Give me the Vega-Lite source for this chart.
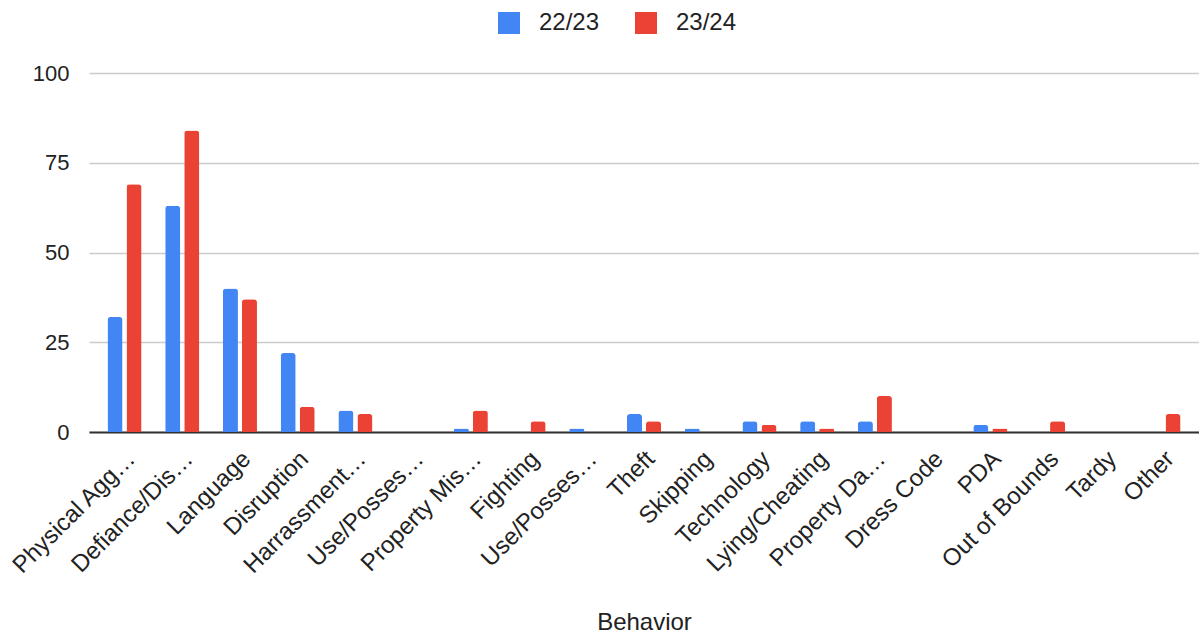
{
  "$schema": "https://vega.github.io/schema/vega-lite/v6.json",
  "autosize": {"type": "none"},
  "width": 1110,
  "height": 359,
  "padding": {"left": 89, "top": 73, "right": 0, "bottom": 205},
  "background": "white",
  "config": {
    "view": {"stroke": null},
    "font": "Liberation Sans",
    "axis": {"labelFont": "Liberation Sans", "titleFont": "Liberation Sans", "labelColor": "#222222", "titleColor": "#222222", "titleFontWeight": "normal"}
  },
  "data": {
    "values": [
      {"behavior": "Physical Aggression", "year": "22/23", "count": 32},
      {"behavior": "Physical Aggression", "year": "23/24", "count": 69},
      {"behavior": "Defiance/Disrespect", "year": "22/23", "count": 63},
      {"behavior": "Defiance/Disrespect", "year": "23/24", "count": 84},
      {"behavior": "Language", "year": "22/23", "count": 40},
      {"behavior": "Language", "year": "23/24", "count": 37},
      {"behavior": "Disruption", "year": "22/23", "count": 22},
      {"behavior": "Disruption", "year": "23/24", "count": 7},
      {"behavior": "Harrassment/Bullying", "year": "22/23", "count": 6},
      {"behavior": "Harrassment/Bullying", "year": "23/24", "count": 5},
      {"behavior": "Property Misuse", "year": "22/23", "count": 1},
      {"behavior": "Property Misuse", "year": "23/24", "count": 6},
      {"behavior": "Fighting", "year": "23/24", "count": 3},
      {"behavior": "Use/Possession of Weapons", "year": "22/23", "count": 1},
      {"behavior": "Theft", "year": "22/23", "count": 5},
      {"behavior": "Theft", "year": "23/24", "count": 3},
      {"behavior": "Skipping", "year": "22/23", "count": 1},
      {"behavior": "Technology", "year": "22/23", "count": 3},
      {"behavior": "Technology", "year": "23/24", "count": 2},
      {"behavior": "Lying/Cheating", "year": "22/23", "count": 3},
      {"behavior": "Lying/Cheating", "year": "23/24", "count": 1},
      {"behavior": "Property Damage", "year": "22/23", "count": 3},
      {"behavior": "Property Damage", "year": "23/24", "count": 10},
      {"behavior": "PDA", "year": "22/23", "count": 2},
      {"behavior": "PDA", "year": "23/24", "count": 1},
      {"behavior": "Out of Bounds", "year": "23/24", "count": 3},
      {"behavior": "Other", "year": "23/24", "count": 5}
    ]
  },
  "mark": {"type": "bar", "cornerRadiusTopLeft": 3, "cornerRadiusTopRight": 3},
  "encoding": {
    "x": {
      "field": "behavior",
      "type": "nominal",
      "title": "Behavior",
      "scale": {
        "domain": ["Physical Aggression", "Defiance/Disrespect", "Language", "Disruption", "Harrassment/Bullying", "Use/Possession of Drugs", "Property Misuse", "Fighting", "Use/Possession of Weapons", "Theft", "Skipping", "Technology", "Lying/Cheating", "Property Damage", "Dress Code", "PDA", "Out of Bounds", "Tardy", "Other"],
        "paddingInner": 0.41,
        "paddingOuter": 0.32
      },
      "axis": {
        "labelAngle": -45,
        "labelAlign": "right",
        "labelBaseline": "middle",
        "labelFontSize": 24,
        "labelPadding": 23,
        "labelOffset": 7,
        "labelLimit": 300,
        "ticks": false,
        "domain": true,
        "domainColor": "#333333",
        "domainWidth": 2,
        "titleFontSize": 24,
        "titlePadding": 32,
        "labelExpr": "datum.label == 'Physical Aggression' ? 'Physical Agg…' : datum.label == 'Defiance/Disrespect' ? 'Defiance/Dis…' : datum.label == 'Harrassment/Bullying' ? 'Harrassment…' : datum.label == 'Use/Possession of Drugs' ? 'Use/Posses…' : datum.label == 'Use/Possession of Weapons' ? 'Use/Posses…' : datum.label == 'Property Misuse' ? 'Property Mis…' : datum.label == 'Property Damage' ? 'Property Da…' : datum.label"
      }
    },
    "xOffset": {
      "field": "year",
      "type": "nominal",
      "scale": {"domain": ["22/23", "23/24"], "paddingInner": 0.21, "paddingOuter": 0}
    },
    "y": {
      "field": "count",
      "type": "quantitative",
      "title": null,
      "scale": {"domain": [0, 100], "nice": false},
      "axis": {
        "values": [0, 25, 50, 75, 100],
        "labelFontSize": 22,
        "labelPadding": 20,
        "ticks": false,
        "domain": false,
        "gridColor": "#cccccc",
        "gridWidth": 1.5
      }
    },
    "color": {
      "field": "year",
      "type": "nominal",
      "title": null,
      "scale": {"domain": ["22/23", "23/24"], "range": ["#4285F4", "#EA4335"]},
      "legend": {
        "orient": "none",
        "legendX": 408,
        "legendY": -62,
        "direction": "horizontal",
        "symbolType": "square",
        "symbolSize": 484,
        "symbolStrokeWidth": 0,
        "labelFontSize": 24,
        "labelColor": "#222222",
        "labelOffset": 18,
        "columnPadding": 34,
        "labelFont": "Liberation Sans"
      }
    }
  }
}
